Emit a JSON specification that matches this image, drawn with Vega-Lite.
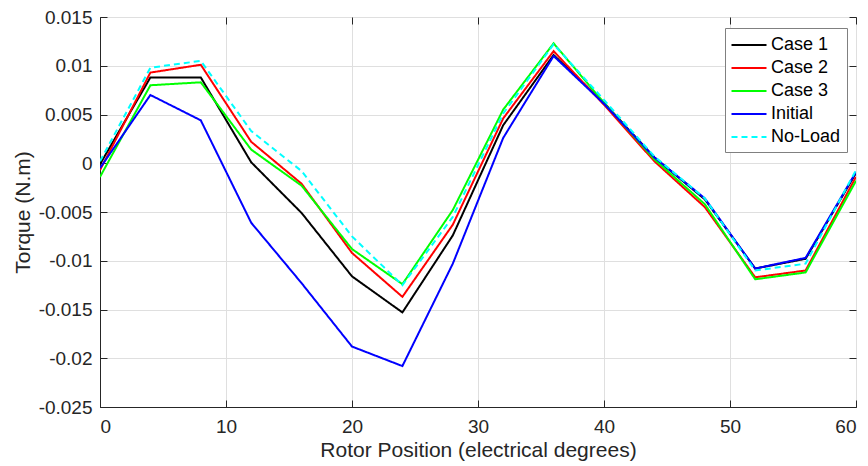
{
  "$schema": "https://vega.github.io/schema/vega-lite/v6.json",
  "width": 756,
  "height": 390,
  "autosize": {"type": "none"},
  "padding": {"left": 100, "top": 17, "right": 12, "bottom": 59},
  "background": "white",
  "config": {
    "font": "Liberation Sans",
    "view": {"stroke": "#262626", "strokeWidth": 1}
  },
  "data": {
    "values": [
      {"series": "Case 1", "pos": 0, "torque": -0.0001},
      {"series": "Case 1", "pos": 4, "torque": 0.0088},
      {"series": "Case 1", "pos": 8, "torque": 0.0088},
      {"series": "Case 1", "pos": 12, "torque": 0.0001},
      {"series": "Case 1", "pos": 16, "torque": -0.0051},
      {"series": "Case 1", "pos": 20, "torque": -0.0116},
      {"series": "Case 1", "pos": 24, "torque": -0.0153},
      {"series": "Case 1", "pos": 28, "torque": -0.0074},
      {"series": "Case 1", "pos": 32, "torque": 0.0039},
      {"series": "Case 1", "pos": 36, "torque": 0.0111},
      {"series": "Case 1", "pos": 40, "torque": 0.0062},
      {"series": "Case 1", "pos": 44, "torque": 0.0006},
      {"series": "Case 1", "pos": 48, "torque": -0.0037},
      {"series": "Case 1", "pos": 52, "torque": -0.0108},
      {"series": "Case 1", "pos": 56, "torque": -0.0098},
      {"series": "Case 1", "pos": 60, "torque": -0.0010},
      {"series": "Case 2", "pos": 0, "torque": -0.0007},
      {"series": "Case 2", "pos": 4, "torque": 0.0093},
      {"series": "Case 2", "pos": 8, "torque": 0.0101},
      {"series": "Case 2", "pos": 12, "torque": 0.0022},
      {"series": "Case 2", "pos": 16, "torque": -0.0021},
      {"series": "Case 2", "pos": 20, "torque": -0.0092},
      {"series": "Case 2", "pos": 24, "torque": -0.0137},
      {"series": "Case 2", "pos": 28, "torque": -0.0063},
      {"series": "Case 2", "pos": 32, "torque": 0.0046},
      {"series": "Case 2", "pos": 36, "torque": 0.0115},
      {"series": "Case 2", "pos": 40, "torque": 0.0060},
      {"series": "Case 2", "pos": 44, "torque": 0.0002},
      {"series": "Case 2", "pos": 48, "torque": -0.0045},
      {"series": "Case 2", "pos": 52, "torque": -0.0117},
      {"series": "Case 2", "pos": 56, "torque": -0.0110},
      {"series": "Case 2", "pos": 60, "torque": -0.0014},
      {"series": "Case 3", "pos": 0, "torque": -0.0014},
      {"series": "Case 3", "pos": 4, "torque": 0.0080},
      {"series": "Case 3", "pos": 8, "torque": 0.0083},
      {"series": "Case 3", "pos": 12, "torque": 0.0014},
      {"series": "Case 3", "pos": 16, "torque": -0.0023},
      {"series": "Case 3", "pos": 20, "torque": -0.0088},
      {"series": "Case 3", "pos": 24, "torque": -0.0124},
      {"series": "Case 3", "pos": 28, "torque": -0.0048},
      {"series": "Case 3", "pos": 32, "torque": 0.0055},
      {"series": "Case 3", "pos": 36, "torque": 0.0123},
      {"series": "Case 3", "pos": 40, "torque": 0.0062},
      {"series": "Case 3", "pos": 44, "torque": 0.0004},
      {"series": "Case 3", "pos": 48, "torque": -0.0042},
      {"series": "Case 3", "pos": 52, "torque": -0.0119},
      {"series": "Case 3", "pos": 56, "torque": -0.0112},
      {"series": "Case 3", "pos": 60, "torque": -0.0018},
      {"series": "Initial", "pos": 0, "torque": -0.0005},
      {"series": "Initial", "pos": 4, "torque": 0.0070},
      {"series": "Initial", "pos": 8, "torque": 0.0044},
      {"series": "Initial", "pos": 12, "torque": -0.0061},
      {"series": "Initial", "pos": 16, "torque": -0.0123},
      {"series": "Initial", "pos": 20, "torque": -0.0188},
      {"series": "Initial", "pos": 24, "torque": -0.0208},
      {"series": "Initial", "pos": 28, "torque": -0.0103},
      {"series": "Initial", "pos": 32, "torque": 0.0026},
      {"series": "Initial", "pos": 36, "torque": 0.0110},
      {"series": "Initial", "pos": 40, "torque": 0.0061},
      {"series": "Initial", "pos": 44, "torque": 0.0006},
      {"series": "Initial", "pos": 48, "torque": -0.0036},
      {"series": "Initial", "pos": 52, "torque": -0.0108},
      {"series": "Initial", "pos": 56, "torque": -0.0097},
      {"series": "Initial", "pos": 60, "torque": -0.0009},
      {"series": "No-Load", "pos": 0, "torque": 0.0002},
      {"series": "No-Load", "pos": 4, "torque": 0.0098},
      {"series": "No-Load", "pos": 8, "torque": 0.0105},
      {"series": "No-Load", "pos": 12, "torque": 0.0033},
      {"series": "No-Load", "pos": 16, "torque": -0.0008},
      {"series": "No-Load", "pos": 20, "torque": -0.0075},
      {"series": "No-Load", "pos": 24, "torque": -0.0125},
      {"series": "No-Load", "pos": 28, "torque": -0.0055},
      {"series": "No-Load", "pos": 32, "torque": 0.0051},
      {"series": "No-Load", "pos": 36, "torque": 0.0122},
      {"series": "No-Load", "pos": 40, "torque": 0.0065},
      {"series": "No-Load", "pos": 44, "torque": 0.0007},
      {"series": "No-Load", "pos": 48, "torque": -0.0036},
      {"series": "No-Load", "pos": 52, "torque": -0.0110},
      {"series": "No-Load", "pos": 56, "torque": -0.0103},
      {"series": "No-Load", "pos": 60, "torque": -0.0007}
    ]
  },
  "resolve": {"axis": {"x": "independent", "y": "independent"}},
  "layer": [
    {
      "mark": {"type": "line", "strokeWidth": 2, "clip": true},
      "encoding": {
        "x": {
          "field": "pos", "type": "quantitative",
          "scale": {"domain": [0, 60], "nice": false, "zero": false},
          "axis": {
            "orient": "bottom",
            "values": [0, 10, 20, 30, 40, 50, 60],
            "grid": true, "gridColor": "#dfdfdf", "gridWidth": 1,
            "domainColor": "#262626", "tickColor": "#262626", "tickSize": -7,
            "labelFontSize": 19, "labelColor": "#262626", "labelPadding": 17,
            "title": "Rotor Position (electrical degrees)",
            "titleFontSize": 21, "titleFontWeight": "normal", "titleColor": "#262626", "titlePadding": 3
          }
        },
        "y": {
          "field": "torque", "type": "quantitative",
          "scale": {"domain": [-0.025, 0.015], "nice": false, "zero": false},
          "axis": {
            "orient": "left",
            "values": [-0.025, -0.02, -0.015, -0.01, -0.005, 0, 0.005, 0.01, 0.015],
            "labelExpr": "replace(format(datum.value, '~g'), '\u2212', '-')",
            "grid": true, "gridColor": "#dfdfdf", "gridWidth": 1,
            "domainColor": "#262626", "tickColor": "#262626", "tickSize": -7,
            "labelFontSize": 19, "labelColor": "#262626", "labelPadding": 15,
            "title": "Torque (N.m)",
            "titleFontSize": 21, "titleFontWeight": "normal", "titleColor": "#262626", "titlePadding": 5
          }
        },
        "color": {
          "field": "series", "type": "nominal",
          "scale": {
            "domain": ["Case 1", "Case 2", "Case 3", "Initial", "No-Load"],
            "range": ["#000000", "#ff0000", "#00ff00", "#0000ff", "#00ffff"]
          },
          "legend": {
            "title": null, "orient": "none", "legendX": 625, "legendY": 11,
            "symbolType": "M-1.75,0H1.75", "symbolSize": 400, "symbolStrokeWidth": 2,
            "symbolOffset": 7, "labelOffset": 11,
            "labelFontSize": 18, "labelColor": "#000000", "labelFont": "Liberation Sans",
            "rowPadding": 3, "padding": 6,
            "fillColor": "white", "strokeColor": "#808080"
          }
        },
        "strokeDash": {
          "field": "series", "type": "nominal",
          "scale": {
            "domain": ["Case 1", "Case 2", "Case 3", "Initial", "No-Load"],
            "range": [[1, 0], [1, 0], [1, 0], [1, 0], [6, 4]]
          },
          "legend": {
            "title": null, "orient": "none", "legendX": 625, "legendY": 11,
            "symbolType": "M-1.75,0H1.75", "symbolSize": 400, "symbolStrokeWidth": 2,
            "symbolOffset": 7, "labelOffset": 11,
            "labelFontSize": 18, "labelColor": "#000000", "labelFont": "Liberation Sans",
            "rowPadding": 3, "padding": 6,
            "fillColor": "white", "strokeColor": "#808080"
          }
        }
      }
    },
    {
      "mark": {"type": "line", "opacity": 0},
      "encoding": {
        "x": {
          "field": "pos", "type": "quantitative",
          "axis": {
            "orient": "top", "values": [0, 10, 20, 30, 40, 50, 60],
            "labels": false, "title": null, "grid": false, "domain": false,
            "tickColor": "#262626", "tickSize": -7
          }
        },
        "y": {
          "field": "torque", "type": "quantitative",
          "axis": {
            "orient": "right",
            "values": [-0.025, -0.02, -0.015, -0.01, -0.005, 0, 0.005, 0.01, 0.015],
            "labels": false, "title": null, "grid": false, "domain": false,
            "tickColor": "#262626", "tickSize": -7
          }
        },
        "detail": {"field": "series", "type": "nominal"}
      }
    }
  ]
}
